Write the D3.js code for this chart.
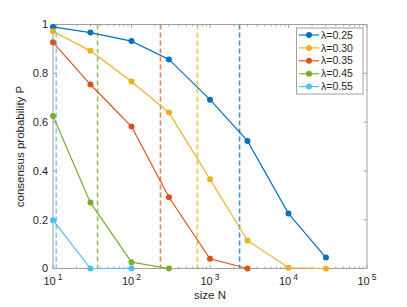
<!DOCTYPE html>
<html><head><meta charset="utf-8">
<script src="https://cdn.jsdelivr.net/npm/d3@7"></script>
<style>body{margin:0;background:#fff;}svg{display:block;font-family:"Liberation Sans",Arial,sans-serif;}</style>
</head><body><svg id="c" width="407" height="307"></svg>
<script>
const sizes = [10, 30, 100, 300, 1000, 3000, 10000, 30000];
const lambdas = ["λ=0.25", "λ=0.30", "λ=0.35", "λ=0.45", "λ=0.55"];
const colors = ["#0072BD", "#EDB120", "#D95319", "#77AC30", "#4DBEEE"];
const pL025 = [0.99, 0.967, 0.932, 0.857, 0.692, 0.523, 0.225, 0.045];
const pL030 = [0.972, 0.892, 0.766, 0.639, 0.366, 0.115, 0.003, 0.0];
const pL035 = [0.927, 0.754, 0.582, 0.292, 0.04, 0.0];
const pL045 = [0.625, 0.27, 0.026, 0.0];
const pL055 = [0.198, 0.0, 0.0];
const thresholds = [2380, 690, 234, 37, 11];
const yTicks = [0, 0.2, 0.4, 0.6, 0.8, 1];
const xTicks = [10, 100, 1000, 10000, 100000];
const series = [pL025, pL030, pL035, pL045, pL055];

const svg = d3.select("#c");
const L = 53, R = 367, T = 24.5, B = 268.5;
const x = d3.scaleLog().domain([10, 100000]).range([L, R]);
const y = d3.scaleLinear().domain([0, 1]).range([B, T]);
const axisCol = "#a0a0a0", textCol = "#262626";

// dashed threshold lines
thresholds.forEach((t, i) => {
  svg.append("line").attr("x1", x(t)).attr("x2", x(t)).attr("y1", T).attr("y2", B)
    .attr("stroke", colors[i]).attr("stroke-width", 1.6).attr("stroke-dasharray", "5,3")
    .attr("opacity", 0.75);
});

// box
svg.append("rect").attr("x", L).attr("y", T).attr("width", R - L).attr("height", B - T)
  .attr("fill", "none").attr("stroke", axisCol).attr("stroke-width", 1);

// minor and major x ticks
const allX = [];
for (let e = 1; e < 5; e++) for (let m = 1; m < 10; m++) allX.push(m * Math.pow(10, e));
allX.push(100000);
allX.forEach(v => {
  const major = xTicks.includes(v);
  const len = major ? 3.5 : 2;
  svg.append("line").attr("x1", x(v)).attr("x2", x(v)).attr("y1", B).attr("y2", B - len).attr("stroke", axisCol);
  svg.append("line").attr("x1", x(v)).attr("x2", x(v)).attr("y1", T).attr("y2", T + len).attr("stroke", axisCol);
});
yTicks.forEach(v => {
  svg.append("line").attr("x1", L).attr("x2", L + 3.5).attr("y1", y(v)).attr("y2", y(v)).attr("stroke", axisCol);
  svg.append("line").attr("x1", R).attr("x2", R - 3.5).attr("y1", y(v)).attr("y2", y(v)).attr("stroke", axisCol);
  svg.append("text").attr("x", L - 5).attr("y", y(v)).attr("dy", "0.35em").attr("text-anchor", "end")
    .attr("font-size", 11).attr("fill", textCol).text(d3.format("~g")(v));
});
xTicks.forEach(v => {
  const t = svg.append("text").attr("x", x(v)).attr("y", B + 16).attr("text-anchor", "middle")
    .attr("font-size", 11).attr("fill", textCol);
  t.append("tspan").text("10");
  t.append("tspan").attr("dx", 2).attr("dy", -5).attr("font-size", 8.5).text(Math.round(Math.log10(v)));
});

// axis labels
svg.append("text").attr("x", (L + R) / 2).attr("y", 299).attr("text-anchor", "middle")
  .attr("font-size", 11.5).attr("fill", textCol).text("size N");
svg.append("text").attr("transform", `translate(24,${(T + B) / 2}) rotate(-90)`).attr("text-anchor", "middle")
  .attr("font-size", 11.5).attr("fill", textCol).text("consensus probability P");

// series
const line = d3.line().x((d, i) => x(sizes[i])).y(d => y(d));
series.forEach((s, k) => {
  svg.append("path").datum(s).attr("d", line).attr("fill", "none")
    .attr("stroke", colors[k]).attr("stroke-width", 1.2);
  svg.selectAll(null).data(s).enter().append("circle")
    .attr("cx", (d, i) => x(sizes[i])).attr("cy", d => y(d)).attr("r", 3).attr("fill", colors[k]);
});

// legend
const lg = svg.append("g");
lg.append("rect").attr("x", 296.5).attr("y", 28).attr("width", 66.5).attr("height", 66)
  .attr("fill", "#fff").attr("stroke", axisCol);
lambdas.forEach((n, i) => {
  const yy = 35 + i * 12.9;
  lg.append("line").attr("x1", 299).attr("x2", 319).attr("y1", yy).attr("y2", yy)
    .attr("stroke", colors[i]).attr("stroke-width", 1.2);
  lg.append("circle").attr("cx", 309).attr("cy", yy).attr("r", 3).attr("fill", colors[i]);
  lg.append("text").attr("x", 321).attr("y", yy).attr("dy", "0.35em").attr("font-size", 10.5)
    .attr("fill", textCol).text(n);
});
</script></body></html>
